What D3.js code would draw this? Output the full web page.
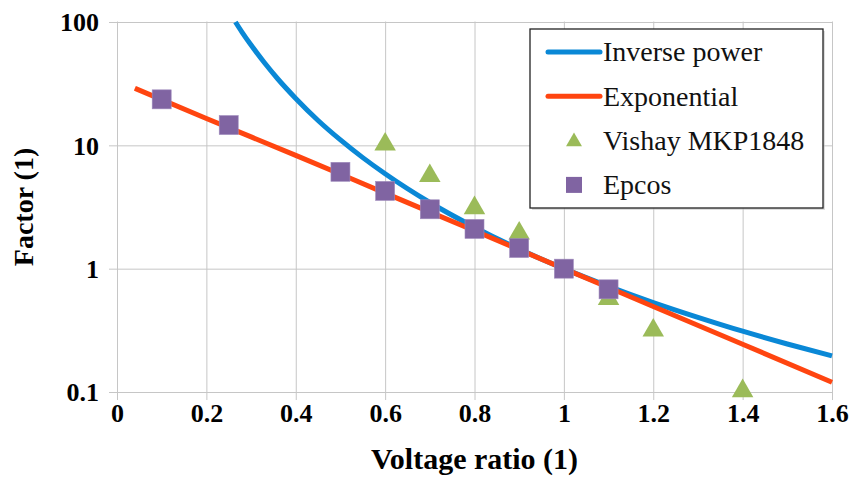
<!DOCTYPE html>
<html>
<head>
<meta charset="utf-8">
<script src="https://cdn.jsdelivr.net/npm/d3@7"></script>
<style>
  body { margin: 0; background: #fff; }
</style>
</head>
<body>
<svg id="chart" width="851" height="477"></svg>
<script>
// values
const invX = [0.265, 0.28, 0.3, 0.33, 0.36, 0.4, 0.45, 0.5, 0.55, 0.6, 0.7, 0.8, 0.9, 1.0, 1.1, 1.2, 1.3, 1.4, 1.5, 1.6];
const invY = [100, 82.5, 65, 46.7, 34.5, 24.0, 15.9, 11.06, 7.95, 5.88, 3.44, 2.17, 1.44, 1.0, 0.719, 0.531, 0.403, 0.311, 0.245, 0.196];
const expX = [0.04, 0.2, 0.4, 0.6, 0.8, 1.0, 1.2, 1.4, 1.6];
const expY = [29, 16.5, 8.3, 4.1, 2.03, 1.0, 0.494, 0.244, 0.12];
const vishayX = [0.6, 0.7, 0.8, 0.9, 1.1, 1.2, 1.4];
const vishayY = [10, 5.55, 3.05, 1.9, 0.56, 0.31, 0.1];
const epcosX = [0.1, 0.25, 0.5, 0.6, 0.7, 0.8, 0.9, 1.0, 1.1];
const epcosY = [23.6, 14.6, 6.1, 4.27, 3.03, 2.1, 1.47, 1.0, 0.68];
const xTicks = [0, 0.2, 0.4, 0.6, 0.8, 1, 1.2, 1.4, 1.6];
const yTicks = [0.1, 1, 10, 100];
const legendNames = ["Inverse power", "Exponential", "Vishay MKP1848", "Epcos"];

const colors = { inv: "#0a88d6", exp: "#ff4510", vishay: "#9bbb59", epcos: "#8064a2" };
const serif = "\"Liberation Serif\"";

function translate(x, y) {
  return `translate(${x}, ${y})`;
}

const margin = { left: 117, top: 22, right: 19, bottom: 85 };
const width = 851 - margin.left - margin.right;
const height = 477 - margin.top - margin.bottom;

const svg = d3.select("#chart");
const chart = svg.append("g").attr("transform", translate(margin.left, margin.top));

const xScale = d3.scaleLinear().domain([0, 1.6]).range([0, width]);
const yScale = d3.scaleLog().domain([0.1, 100]).range([height, 0]);

// grid + axes
chart.append("g")
  .attr("class", "xAxis")
  .attr("transform", translate(0, height))
  .call(d3.axisBottom(xScale)
    .tickValues(xTicks)
    .tickSize(-height - 0.5)
    .tickSizeOuter(0)
    .tickFormat(d => d3.format("")(d)))
  .call(g => g.select(".domain").remove());

chart.append("g")
  .attr("class", "yAxis")
  .call(d3.axisLeft(yScale)
    .tickValues(yTicks)
    .tickSize(-width)
    .tickSizeOuter(0)
    .tickFormat(d => d3.format("")(d)))
  .call(g => g.select(".domain").remove());

// extend grid lines outward as tick marks
chart.selectAll(".xAxis .tick line").attr("y1", 8);
chart.selectAll(".yAxis .tick line").attr("x1", -8);
chart.selectAll(".tick line").attr("stroke", "#c6c6c6").attr("stroke-width", 1);

chart.selectAll(".xAxis .tick text")
  .attr("y", 30)
  .attr("dy", "0")
  .style("font-family", serif)
  .style("font-size", "26px").style("font-weight", "bold").attr("fill", "#000");
chart.selectAll(".yAxis .tick text")
  .attr("x", -18)
  .attr("dy", "0.34em")
  .style("font-family", serif)
  .style("font-size", "26px").style("font-weight", "bold").attr("fill", "#000");

// axis titles
svg.append("text")
  .attr("x", 474.5)
  .attr("y", 469)
  .attr("text-anchor", "middle")
  .style("font-family", serif)
  .style("font-size", "30px").style("font-weight", "bold")
  .text("Voltage ratio (1)");

svg.append("text")
  .attr("transform", translate(33, 207) + " rotate(-90)")
  .attr("text-anchor", "middle")
  .style("font-family", serif)
  .style("font-size", "28px").style("font-weight", "bold")
  .text("Factor (1)");

// curves
const line = d3.line()
  .x(d => xScale(d[0]))
  .y(d => yScale(d[1]))
  .curve(d3.curveMonotoneX);

chart.append("path")
  .datum(invX.map((x, i) => [x, invY[i]]))
  .attr("fill", "none")
  .attr("stroke", colors.inv)
  .attr("stroke-width", 5)
  .attr("d", line);

chart.append("path")
  .datum(expX.map((x, i) => [x, expY[i]]))
  .attr("fill", "none")
  .attr("stroke", colors.exp)
  .attr("stroke-width", 5)
  .attr("d", line);

// markers
const tri = d3.symbol().type(d3.symbolTriangle).size(200);
chart.selectAll(".vishay")
  .data(vishayX.map((x, i) => [x, vishayY[i]]))
  .enter().append("path")
  .attr("class", "vishay")
  .attr("transform", d => translate(xScale(d[0]), yScale(d[1]) - 1))
  .attr("d", tri)
  .attr("fill", colors.vishay);

chart.selectAll(".epcos")
  .data(epcosX.map((x, i) => [x, epcosY[i]]))
  .enter().append("rect")
  .attr("class", "epcos")
  .attr("x", d => xScale(d[0]) - 9.5)
  .attr("y", d => yScale(d[1]) - 9.5)
  .attr("width", 19)
  .attr("height", 19)
  .attr("fill", colors.epcos)
  .attr("stroke", "#9f8bbd")
  .attr("stroke-width", 0.6);

// legend
const legend = svg.append("g").attr("transform", translate(530, 29));
legend.append("rect")
  .attr("x", 2).attr("y", 2)
  .attr("width", 293).attr("height", 179)
  .attr("fill", "#bbb").attr("opacity", 0.5);
legend.append("rect")
  .attr("width", 293).attr("height", 179)
  .attr("fill", "#fff")
  .attr("stroke", "#222")
  .attr("stroke-width", 1.3);

const rowY = d => 23 + d * 44.3;
legendNames.forEach((name, i) => {
  const row = legend.append("g").attr("transform", translate(0, rowY(i)));
  if (i < 2) {
    row.append("line")
      .attr("x1", 18).attr("x2", 70)
      .attr("stroke", i === 0 ? colors.inv : colors.exp)
      .attr("stroke-width", 5)
      .attr("stroke-linecap", "round");
  } else if (i === 2) {
    row.append("path")
      .attr("transform", translate(44, 1))
      .attr("d", d3.symbol().type(d3.symbolTriangle).size(110))
      .attr("fill", colors.vishay);
  } else {
    row.append("rect")
      .attr("x", 36).attr("y", -8)
      .attr("width", 16).attr("height", 16)
      .attr("fill", colors.epcos);
  }
  row.append("text")
    .attr("x", 73)
    .attr("dy", "0.33em")
    .style("font-family", serif)
    .style("font-size", "28px")
    .attr("fill", "#111")
    .text(name);
});
</script>
</body>
</html>
